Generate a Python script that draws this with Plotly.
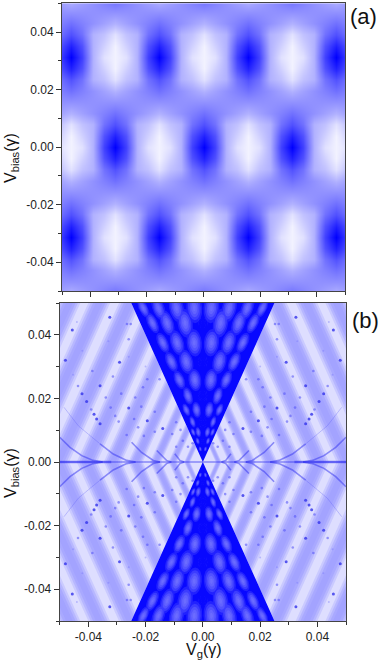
import numpy as np
import plotly.graph_objects as go

# ==========================================================
# Panel (a): intensity, hex digit = level 0-15
# ==========================================================

a_rows = [
    "545678765456787654567876545",
    "666666666666666666666666666",
    "787654567876545678765456787",
    "8a8431348a8431348a8431348a8",
    "ada42024ada42024ada42024ada",
    "bfb41014bfb41014bfb41014bfb",
    "ada42024ada42024ada42024ada",
    "8a8431348a8431348a8431348a8",
    "787654567876545678765456787",
    "666666666666666666666666666",
    "545678765456787654567876545",
    "31348a8431348a8431348a84313",
    "2024ada42024ada42024ada4202",
    "1014bfb41014bfb41014bfb4101",
    "2024ada42024ada42024ada4202",
    "31348a8431348a8431348a84313",
    "545678765456787654567876545",
    "666666666666666666666666666",
    "787654567876545678765456787",
    "8a8431348a8431348a8431348a8",
    "ada42024ada42024ada42024ada",
    "bfb41014bfb41014bfb41014bfb",
    "ada42024ada42024ada42024ada",
    "8a8431348a8431348a8431348a8",
    "787654567876545678765456787",
    "666666666666666666666666666",
    "545678765456787654567876545",
]
a_step = 0.00390625
a_nodes = [k * a_step for k in range(-13, 14)]

# ==========================================================
# Panel (b): stripes, wedge spots, dots and arcs
# ==========================================================

# where each dark stripe meets Vbias=0, and its half width there
stripe_c = [-0.0716, -0.0612, -0.0505, -0.0405, -0.0315, -0.0235, -0.0165, -0.0105, -0.0055]
stripe_h = [0.0033, 0.0033, 0.0033, 0.0031, 0.0027, 0.0022, 0.0017, 0.0013, 0.0009]

# rows of light spots in the wedge, positive side only
spot_y = [0.0484, 0.0437, 0.0375, 0.0315, 0.0258, 0.0208, 0.0164, 0.0126, 0.0094, 0.0066, 0.0041]
spot_len = [0.0048, 0.0048, 0.0044, 0.0041, 0.0036, 0.0031, 0.0026, 0.0021, 0.0017, 0.0013, 0.0009]
spot_hw = [0.0028, 0.0028, 0.0027, 0.0026, 0.0023, 0.0019, 0.0016, 0.0012, 0.0010, 0.0008, 0.0006]
spot_x = [
    [0.0030, 0.0092, 0.0155, 0.0208],
    [0.0, 0.0062, 0.0125, 0.0176],
    [0.0030, 0.0090, 0.0140],
    [0.0, 0.0058, 0.0110],
    [0.0028, 0.0082],
    [0.0, 0.0052],
    [0.0022, 0.0058],
    [0.0, 0.0036],
    [0.0016, 0.0034],
    [0.0, 0.0018],
    [0.0009],
]

# dots, upper-left quadrant
dot_strong_x = [-0.0325, -0.0456, -0.0480, -0.0291, -0.0359, -0.0422, -0.0406, -0.0259, -0.0140, -0.0359, -0.0371, -0.0380, -0.0194]
dot_strong_y = [0.0455, 0.0415, 0.0320, 0.0314, 0.0240, 0.0215, 0.0190, 0.0170, 0.0105, 0.0120, 0.0135, 0.0150, 0.0130]
dot_mid_x = [-0.0265, -0.0252, -0.0259, -0.0386, -0.0194, -0.0151, -0.0314, -0.0436, -0.0209, -0.0285, -0.0339, -0.0236, -0.0215, -0.0168, -0.0322, -0.0390, -0.0306, -0.0240, -0.0226, -0.0294, -0.0266, -0.0206, -0.0168, -0.0107, -0.0078, -0.0093, -0.0070, -0.0093, -0.0052, -0.0036]
dot_mid_y = [0.0434, 0.0434, 0.0386, 0.0286, 0.0260, 0.0260, 0.0269, 0.0239, 0.0235, 0.0215, 0.0203, 0.0203, 0.0174, 0.0158, 0.0171, 0.0165, 0.0145, 0.0135, 0.0109, 0.0127, 0.0085, 0.0082, 0.0095, 0.0088, 0.0101, 0.0125, 0.0067, 0.0048, 0.0048, 0.0059]
dot_weak_x = [-0.0421, -0.0453, -0.0259, -0.0330, -0.0200, -0.0440]
dot_weak_y = [0.0350, 0.0274, 0.0331, 0.0380, 0.0300, 0.0440]

# arcs leaving the Vbias=0 line, upper-left quadrant
arc_x = [
    [-0.0500, -0.0464, -0.0423, -0.0383, -0.0350],
    [-0.0359, -0.0313, -0.0266, -0.0235],
    [-0.0249, -0.0214, -0.0173, -0.0150],
    [-0.0161, -0.0127, -0.0110],
    [-0.0098, -0.0080, -0.0065],
]
arc_y = [
    [0.0078, 0.0046, 0.0020, 0.0005, 0.0],
    [0.0057, 0.0025, 0.0005, 0.0],
    [0.0062, 0.0030, 0.0005, 0.0],
    [0.0036, 0.0005, 0.0],
    [0.0026, 0.0005, 0.0],
]
arc_faint_x = [-0.0485, -0.0435, -0.0394, -0.0359]
arc_faint_y = [0.0172, 0.0114, 0.0083, 0.0057]

tick_vals = [-0.04, -0.02, 0.0, 0.02, 0.04]
tick_text = ["-0.04", "-0.02", "0.00", "0.02", "0.04"]

W, H = 382, 663
FONT = "Liberation Sans, Arial, sans-serif"

fig = go.Figure()

fig.add_trace(
    go.Heatmap(
        x=a_nodes,
        y=a_nodes,
        z=[[int(c, 16) for c in row] for row in a_rows],
        zmin=0,
        zmax=15,
        zsmooth="best",
        colorscale=[[0, "#f2f2ff"], [1, "#0000ff"]],
        showscale=False,
        hoverinfo="skip",
        xaxis="x",
        yaxis="y",
    )
)


def add_line(xs, ys, color, width):
    fig.add_trace(
        go.Scatter(
            x=xs,
            y=ys,
            mode="lines",
            line=dict(color=color, width=width),
            hoverinfo="skip",
            xaxis="x2",
            yaxis="y2",
        )
    )


def add_fill(xs, ys, color):
    fig.add_trace(
        go.Scatter(
            x=xs,
            y=ys,
            mode="lines",
            fill="toself",
            fillcolor=color,
            line=dict(width=0),
            hoverinfo="skip",
            xaxis="x2",
            yaxis="y2",
        )
    )


# stripes: chevron bands that end exactly on the wedge edges
for scale, alpha in [(1.15, 0.2), (0.9, 0.24), (0.65, 0.22), (0.35, 0.14)]:
    xs, ys = [], []
    for c, h in zip(stripe_c, stripe_h):
        c1, c2 = c - h * scale, min(c + h * scale, 0.0)
        for side in (-1, 1):
            xs += [side * v for v in (c1 / 2, c1, c1 / 2, c2 / 2, c2, c2 / 2, c1 / 2)] + [None]
            ys += [-c1, 0.0, c1, c2, 0.0, -c2, -c1, None]
    add_fill(xs, ys, f"rgba(125,125,255,{alpha})")

# wedge
add_fill(
    [-0.025, 0.0, 0.025, -0.025, None, -0.025, 0.0, 0.025, -0.025],
    [0.05, 0.0, 0.05, 0.05, None, -0.05, 0.0, -0.05, -0.05],
    "#0808ff",
)

# light spots inside the wedge, tilted along the ray through the apex;
# they shrink towards the wedge edge
ring = np.linspace(0, 2 * np.pi, 17)
for scale, alpha in [(1.0, 0.16), (0.8, 0.2), (0.6, 0.2), (0.4, 0.18), (0.2, 0.14)]:
    xs, ys = [], []
    for y0, hl, hw, xrow in zip(spot_y, spot_len, spot_hw, spot_x):
        for x0 in xrow:
            shrink = 1 - 0.5 * (x0 / (y0 / 2)) ** 2
            for sx in (-1, 1):
                for sy in (-1, 1):
                    s = scale * shrink
                    ex = x0 + s * (hw * np.cos(ring) + hl * np.sin(ring) * x0 / y0)
                    ey = y0 + s * hl * np.sin(ring)
                    xs += list(sx * ex) + [None]
                    ys += list(sy * ey) + [None]
    add_fill(xs, ys, f"rgba(170,170,255,{alpha})")

# arcs and the band along Vbias=0
for xs, ys in zip(arc_x, arc_y):
    for sx in (-1, 1):
        for sy in (-1, 1):
            add_line([sx * v for v in xs], [sy * v for v in ys], "rgba(50,50,240,0.5)", 1.6)
for sx in (-1, 1):
    for sy in (-1, 1):
        add_line([sx * v for v in arc_faint_x], [sy * v for v in arc_faint_y], "rgba(90,90,245,0.3)", 1)
add_line([-0.05, 0.05], [0, 0], "rgba(50,50,240,0.5)", 1.4)
for sx in (-1, 1):
    add_line([sx * -0.05, sx * -0.032], [0, 0], "rgba(40,40,240,0.5)", 2.6)


def add_dots(xs, ys, color, size):
    qx, qy = [], []
    for sx in (-1, 1):
        for sy in (-1, 1):
            qx += [sx * v for v in xs]
            qy += [sy * v for v in ys]
    fig.add_trace(
        go.Scatter(
            x=qx,
            y=qy,
            mode="markers",
            marker=dict(color=color, size=size, line=dict(width=0)),
            hoverinfo="skip",
            xaxis="x2",
            yaxis="y2",
        )
    )


add_dots(dot_weak_x, dot_weak_y, "rgba(110,110,250,0.35)", 2)
add_dots(dot_mid_x, dot_mid_y, "rgba(80,80,245,0.55)", 2.6)
add_dots(dot_strong_x, dot_strong_y, "rgba(50,50,235,0.8)", 3)

# ==========================================================
# Axes
# ==========================================================

axis_style = dict(
    range=[-0.05, 0.05],
    showgrid=False,
    zeroline=False,
    showline=True,
    linecolor="#444444",
    linewidth=1,
    mirror=True,
    ticks="outside",
    ticklen=5,
    tickwidth=1,
    tickcolor="#333333",
    tickvals=tick_vals,
    ticktext=tick_text,
    tickfont=dict(family=FONT, size=12, color="#222222"),
    minor=dict(ticks="outside", ticklen=3, tickwidth=1, tickcolor="#333333", dtick=0.01, tick0=0),
)

fig.update_layout(
    width=W,
    height=H,
    margin=dict(l=0, r=0, t=0, b=0),
    paper_bgcolor="white",
    plot_bgcolor="#dedeff",
    showlegend=False,
    xaxis=dict(axis_style, domain=[62 / W, 345 / W], anchor="y", showticklabels=False),
    yaxis=dict(axis_style, domain=[1 - 291 / H, 1 - 3.3 / H], anchor="x"),
    xaxis2=dict(axis_style, domain=[59.7 / W, 346 / W], anchor="y2"),
    yaxis2=dict(axis_style, domain=[1 - 621 / H, 1 - 303 / H], anchor="x2"),
    annotations=[
        dict(x=363 / W, y=1 - 16 / H, text="(a)", font=dict(family=FONT, size=22, color="#111111")),
        dict(x=365 / W, y=1 - 320 / H, text="(b)", font=dict(family=FONT, size=22, color="#111111")),
        dict(x=11 / W, y=1 - 158 / H, text="V<sub>bias</sub>(γ)", textangle=-90, font=dict(family=FONT, size=16, color="#111111")),
        dict(x=11 / W, y=1 - 473 / H, text="V<sub>bias</sub>(γ)", textangle=-90, font=dict(family=FONT, size=16, color="#111111")),
        dict(x=204 / W, y=1 - 650 / H, text="V<sub>g</sub>(γ)", font=dict(family=FONT, size=16, color="#111111")),
    ],
)
for ann in fig.layout.annotations:
    ann.update(xref="paper", yref="paper", showarrow=False, xanchor="center", yanchor="middle")

fig.write_html(
    "out.html",
    config=dict(displayModeBar=False),
    post_script="document.body.style.margin='0';document.body.style.overflow='hidden';",
)
